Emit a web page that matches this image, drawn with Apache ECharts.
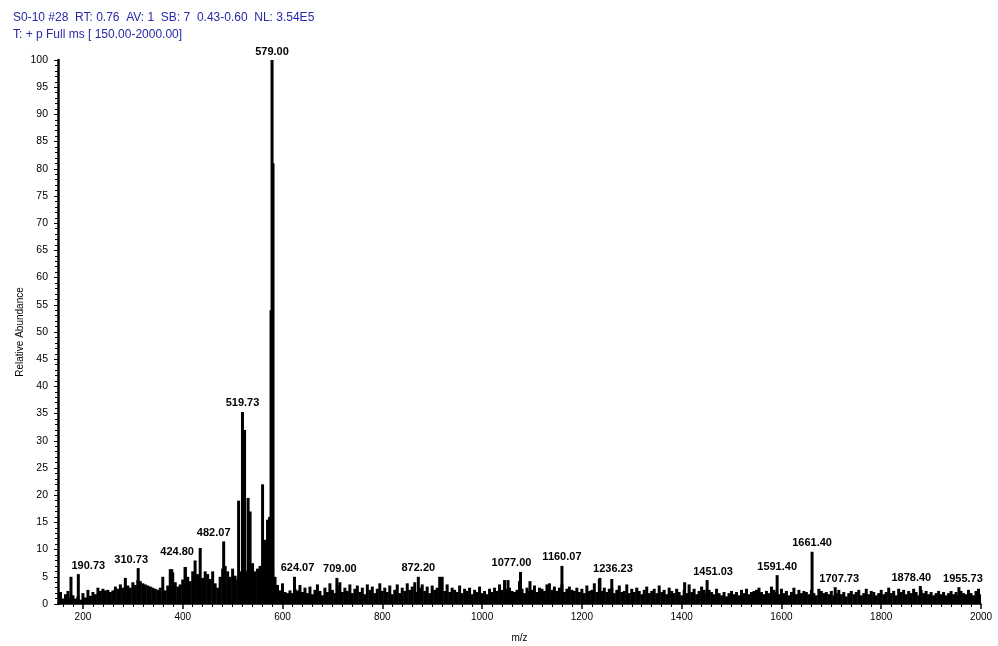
<!DOCTYPE html>
<html><head><meta charset="utf-8">
<script src="https://cdn.jsdelivr.net/npm/echarts@6/dist/echarts.min.js"></script>
<style>html,body{margin:0;padding:0;background:#fff}#c{width:998px;height:646px}</style>
</head><body><div id="c"></div>
<script>
// Header lines
const headerLines = [
  'S0-10 #28  RT: 0.76  AV: 1  SB: 7  0.43-0.60  NL: 3.54E5',
  'T: + p Full ms [ 150.00-2000.00]'
];
// Noise baseline: m/z from 150 to 2000 step 5
const noiseStart = 150, noiseStep = 5;
const noiseValues = [
  1.5,2.2,1.0,1.8,2.4,1.2,1.6,1.0,1.4,0.8,2.0,1.2,2.6,1.5,2.2,1.8,3.0,2.4,2.8,2.5,
  2.6,2.2,2.5,3.2,2.8,3.6,3.0,3.2,3.4,3.0,4.0,3.5,4.4,4.2,3.8,3.6,3.4,3.2,3.0,2.8,
  2.6,3.0,5.0,2.5,3.4,6.4,5.8,4.0,3.2,3.6,4.5,6.8,5.0,4.2,6.0,5.2,5.5,4.5,4.8,6.0,
  5.5,4.6,6.0,3.8,3.0,5.0,6.5,7.0,6.0,5.0,6.5,5.2,4.5,6.0,7.0,6.2,5.8,6.5,7.5,6.0,
  6.5,7.0,7.2,6.8,7.0,6.0,6.5,5.0,3.5,2.5,3.8,2.2,2.0,2.5,2.0,2.8,2.5,3.5,2.2,3.0,
  2.0,3.2,1.8,2.6,3.6,2.4,1.6,3.0,2.2,3.8,2.6,2.0,3.4,4.0,2.2,3.0,2.4,3.6,2.0,2.8,
  3.4,2.2,3.0,1.8,3.6,2.6,3.2,2.0,2.8,3.8,2.4,3.0,2.2,3.4,1.8,2.6,3.6,2.0,3.0,2.4,
  3.8,2.6,3.2,4.0,2.2,3.0,3.6,2.4,3.2,2.0,3.4,2.6,3.0,2.8,5.0,2.4,3.6,2.2,3.0,2.6,
  2.2,3.4,2.0,2.8,2.4,3.0,1.8,2.6,2.2,3.2,2.0,2.4,1.8,2.8,2.2,3.0,2.4,3.6,2.6,4.4,
  2.8,3.0,2.4,2.2,2.6,4.2,2.8,2.0,3.0,2.4,2.6,3.4,2.2,3.0,2.8,2.4,3.6,3.8,2.6,3.2,
  2.4,3.0,3.6,2.2,2.8,3.2,2.6,2.4,3.0,2.2,2.8,2.0,3.4,2.4,2.6,3.8,2.2,4.6,2.4,3.0,
  2.2,2.8,3.0,2.0,2.6,3.4,2.2,2.4,3.6,2.0,2.8,2.2,3.0,2.4,1.8,2.6,3.2,2.0,2.4,2.8,
  2.0,3.4,2.2,2.6,1.8,3.0,2.4,2.0,2.8,2.2,1.6,2.6,2.0,3.6,2.2,2.8,1.8,2.4,3.2,2.6,
  2.0,2.6,2.2,1.8,2.8,2.0,1.6,2.2,1.4,2.0,2.4,1.8,2.2,1.6,2.6,2.0,2.8,1.8,2.2,2.4,
  2.6,3.0,2.2,1.8,2.4,2.0,3.2,2.6,2.2,1.8,2.8,2.0,2.4,1.6,2.2,3.0,1.8,2.6,2.0,2.4,
  2.2,1.8,2.6,2.0,1.6,2.8,2.4,2.0,2.2,1.8,2.4,1.6,2.0,2.6,1.8,2.2,1.4,2.0,2.4,1.8,
  2.2,2.6,1.6,2.0,2.8,1.8,2.4,2.2,1.6,2.0,2.6,1.8,2.2,3.0,2.0,2.4,1.6,2.8,2.2,2.6,
  1.8,2.4,2.0,2.8,2.2,1.6,2.6,2.0,2.4,1.8,2.2,1.6,2.0,2.4,1.8,2.2,1.6,2.0,2.4,1.8,
  2.2,1.6,2.4,2.0,1.8,2.6,2.0,1.6,2.4,2.8,1.8
];
// Distinct peaks
const peakMz  = [176, 190.73, 285, 310.73, 378, 405, 424.80, 435, 482.07, 512, 519.73, 524, 531, 535, 560, 565, 570, 574, 577, 579.00, 581, 624.07, 709.00, 872.20, 915, 1052, 1077.00, 1096, 1160.07, 1236.23, 1260, 1406, 1451.03, 1591.40, 1661.40, 1707.73, 1878.40, 1955.73];
const peakInt = [5.0, 5.5, 4.8, 6.6, 6.4, 6.8, 8.0, 10.3, 11.5, 19, 35.3, 32, 19.5, 17, 22, 11.8, 15.5, 16, 54, 100, 81, 5.0, 4.8, 5.0, 5.0, 4.4, 5.9, 4.2, 7.0, 4.8, 4.6, 4.0, 4.4, 5.3, 9.6, 3.1, 3.3, 3.1];
// Peaks that carry an m/z label
const labelledMz = [190.73, 310.73, 424.80, 482.07, 519.73, 579.00, 624.07, 709.00, 872.20, 1077.00, 1160.07, 1236.23, 1451.03, 1591.40, 1661.40, 1707.73, 1878.40, 1955.73];
const xTicks = [200, 400, 600, 800, 1000, 1200, 1400, 1600, 1800, 2000];

// Styling: horizontal label shift (px) for labels drawn beside their peak
const labelShift = { '190.73': 10, '310.73': -7, '424.80': -18, '482.07': -10, '624.07': 3, '709.00': 3, '1077.00': -9, '1236.23': 13, '1451.03': 6, '1707.73': 4, '1878.40': -9, '1955.73': 4 };

const data = [];
noiseValues.forEach((v, i) => data.push([noiseStart + i * noiseStep, v]));
peakMz.forEach((m, i) => {
  const item = { value: [m, peakInt[i]] };
  if (labelledMz.includes(m)) {
    const key = m.toFixed(2);
    item.label = { show: true, position: 'top', distance: 3, offset: [labelShift[key] || 0, 0], formatter: key };
  }
  data.push(item);
});
const minorTicks = [];
for (let v = 160; v <= 2000; v += 20) if (!xTicks.includes(v)) minorTicks.push(v);

const chart = echarts.init(document.getElementById('c'));
chart.setOption({
  animation: false,
  backgroundColor: '#fff',
  title: {
    text: headerLines.join('\n'),
    left: 8, top: 4,
    textStyle: { color: '#2828a8', fontSize: 12, fontWeight: 'normal', fontFamily: 'Liberation Sans, Arial', lineHeight: 17 }
  },
  grid: { left: 58, right: 17, top: 60, bottom: 42, outerBoundsMode: 'none', containLabel: false },
  xAxis: [{
    type: 'value', min: 150, max: 2000,
    name: 'm/z', nameLocation: 'middle', nameGap: 29,
    nameTextStyle: { color: '#000', fontSize: 10, fontFamily: 'Liberation Sans, Arial' },
    axisLine: { lineStyle: { color: '#000', width: 1.5 } },
    axisTick: { customValues: xTicks, length: 5, lineStyle: { color: '#000', width: 1.5 } },
    axisLabel: { customValues: xTicks, color: '#000', fontSize: 10, margin: 8, fontFamily: 'Liberation Sans, Arial', formatter: v => String(v) },
    splitLine: { show: false }
  }, {
    type: 'value', min: 150, max: 2000, position: 'bottom',
    axisLine: { show: false },
    axisTick: { customValues: minorTicks, length: 3, lineStyle: { color: '#000', width: 1 } },
    axisLabel: { show: false },
    splitLine: { show: false }
  }],
  yAxis: {
    type: 'value', min: 0, max: 100, interval: 5,
    name: 'Relative Abundance', nameLocation: 'middle', nameGap: 33, nameMoveOverlap: false,
    nameTextStyle: { color: '#000', fontSize: 10, fontFamily: 'Liberation Sans, Arial' },
    axisLine: { show: true, lineStyle: { color: '#000', width: 2.5 } },
    axisTick: { show: true, length: 4, lineStyle: { color: '#000', width: 1 } },
    minorTick: { show: true, splitNumber: 5, length: 3, lineStyle: { color: '#000', width: 1 } },
    axisLabel: { color: '#000', fontSize: 10.5, margin: 10, fontFamily: 'Liberation Sans, Arial' },
    splitLine: { show: false }
  },
  series: [{
    type: 'bar',
    xAxisIndex: 0,
    barWidth: 3,
    data: data,
    itemStyle: { color: '#000' },
    label: { color: '#000', fontSize: 11, fontWeight: 'bold', fontFamily: 'Liberation Sans Narrow, Liberation Sans, Arial' }
  }]
});
</script></body></html>
